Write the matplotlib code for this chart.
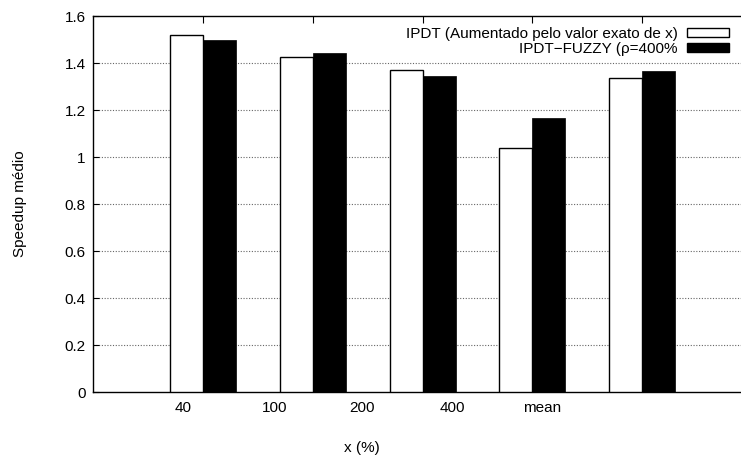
import numpy as np
import matplotlib.pyplot as plt
from matplotlib.patches import Patch
from matplotlib.transforms import blended_transform_factory

plt.rcParams['font.family'] = ['Liberation Sans', 'DejaVu Sans']

# 数据
categories = ['40', '100', '200', '400', 'mean']
ipdt_exato = [1.52, 1.424, 1.369, 1.038, 1.338]
ipdt_fuzzy = [1.50, 1.444, 1.346, 1.166, 1.364]
series_labels = ['IPDT (Aumentado pelo valor exato de x)', u'IPDT\u2212FUZZY (\u03c1=400%']

fs = 11
fig = plt.figure(figsize=(7.41, 4.58), dpi=100)
ax = fig.add_axes([0.125, 0.144, 0.875, 0.821])

x = np.arange(len(categories))
w = 0.30
ax.bar(x - w / 2, ipdt_exato, w, color='white', edgecolor='black', linewidth=1.0, zorder=3)
ax.bar(x + w / 2, ipdt_fuzzy, w, color='black', edgecolor='black', linewidth=0.5, zorder=3)

ax.set_xlim(-1.005, 4.90)
ax.set_ylim(0, 1.6)
ax.set_yticks(np.arange(0, 1.61, 0.2))
ax.set_yticklabels(['0', '0.2', '0.4', '0.6', '0.8', '1', '1.2', '1.4', '1.6'], fontsize=fs)

# 上边的刻度在组中心，下边的标签偏移（跟原图一样）
ax.set_xticks(x)
ax.tick_params(axis='x', top=True, bottom=False, labelbottom=False, direction='in', length=5)
ax.tick_params(axis='y', direction='in', length=4, pad=5)
label_pos = [-0.18, 0.656, 1.449, 2.269, 3.089]
trans = blended_transform_factory(ax.transData, ax.transAxes)
for p, c in zip(label_pos, categories):
    ax.text(p, -0.042, c, transform=trans, ha='center', va='center', fontsize=fs)

ax.spines['right'].set_visible(False)
for s in ['left', 'top', 'bottom']:
    ax.spines[s].set_linewidth(1.0)

# 网格线
for yv in np.arange(0.2, 1.41, 0.2):
    ax.axhline(yv, color='#666666', linestyle=(0, (1, 1.5)), linewidth=0.8, zorder=1)

fig.text(362 / 741, 1 - 448 / 458, 'x (%)', ha='center', va='center', fontsize=fs)
fig.text(20 / 741, 1 - 204 / 458, u'Speedup médio', ha='center', va='center', rotation=90, fontsize=fs)

handles = [Patch(facecolor='white', edgecolor='black', linewidth=1.0),
           Patch(facecolor='black', edgecolor='black')]
ax.legend(handles, series_labels, loc='upper right', frameon=False, markerfirst=False,
          fontsize=fs, handlelength=2.75, handleheight=0.5, labelspacing=0.05,
          handletextpad=0.6, borderaxespad=0.2, bbox_to_anchor=(0.995, 0.995))

plt.savefig('out.png', dpi=100)
